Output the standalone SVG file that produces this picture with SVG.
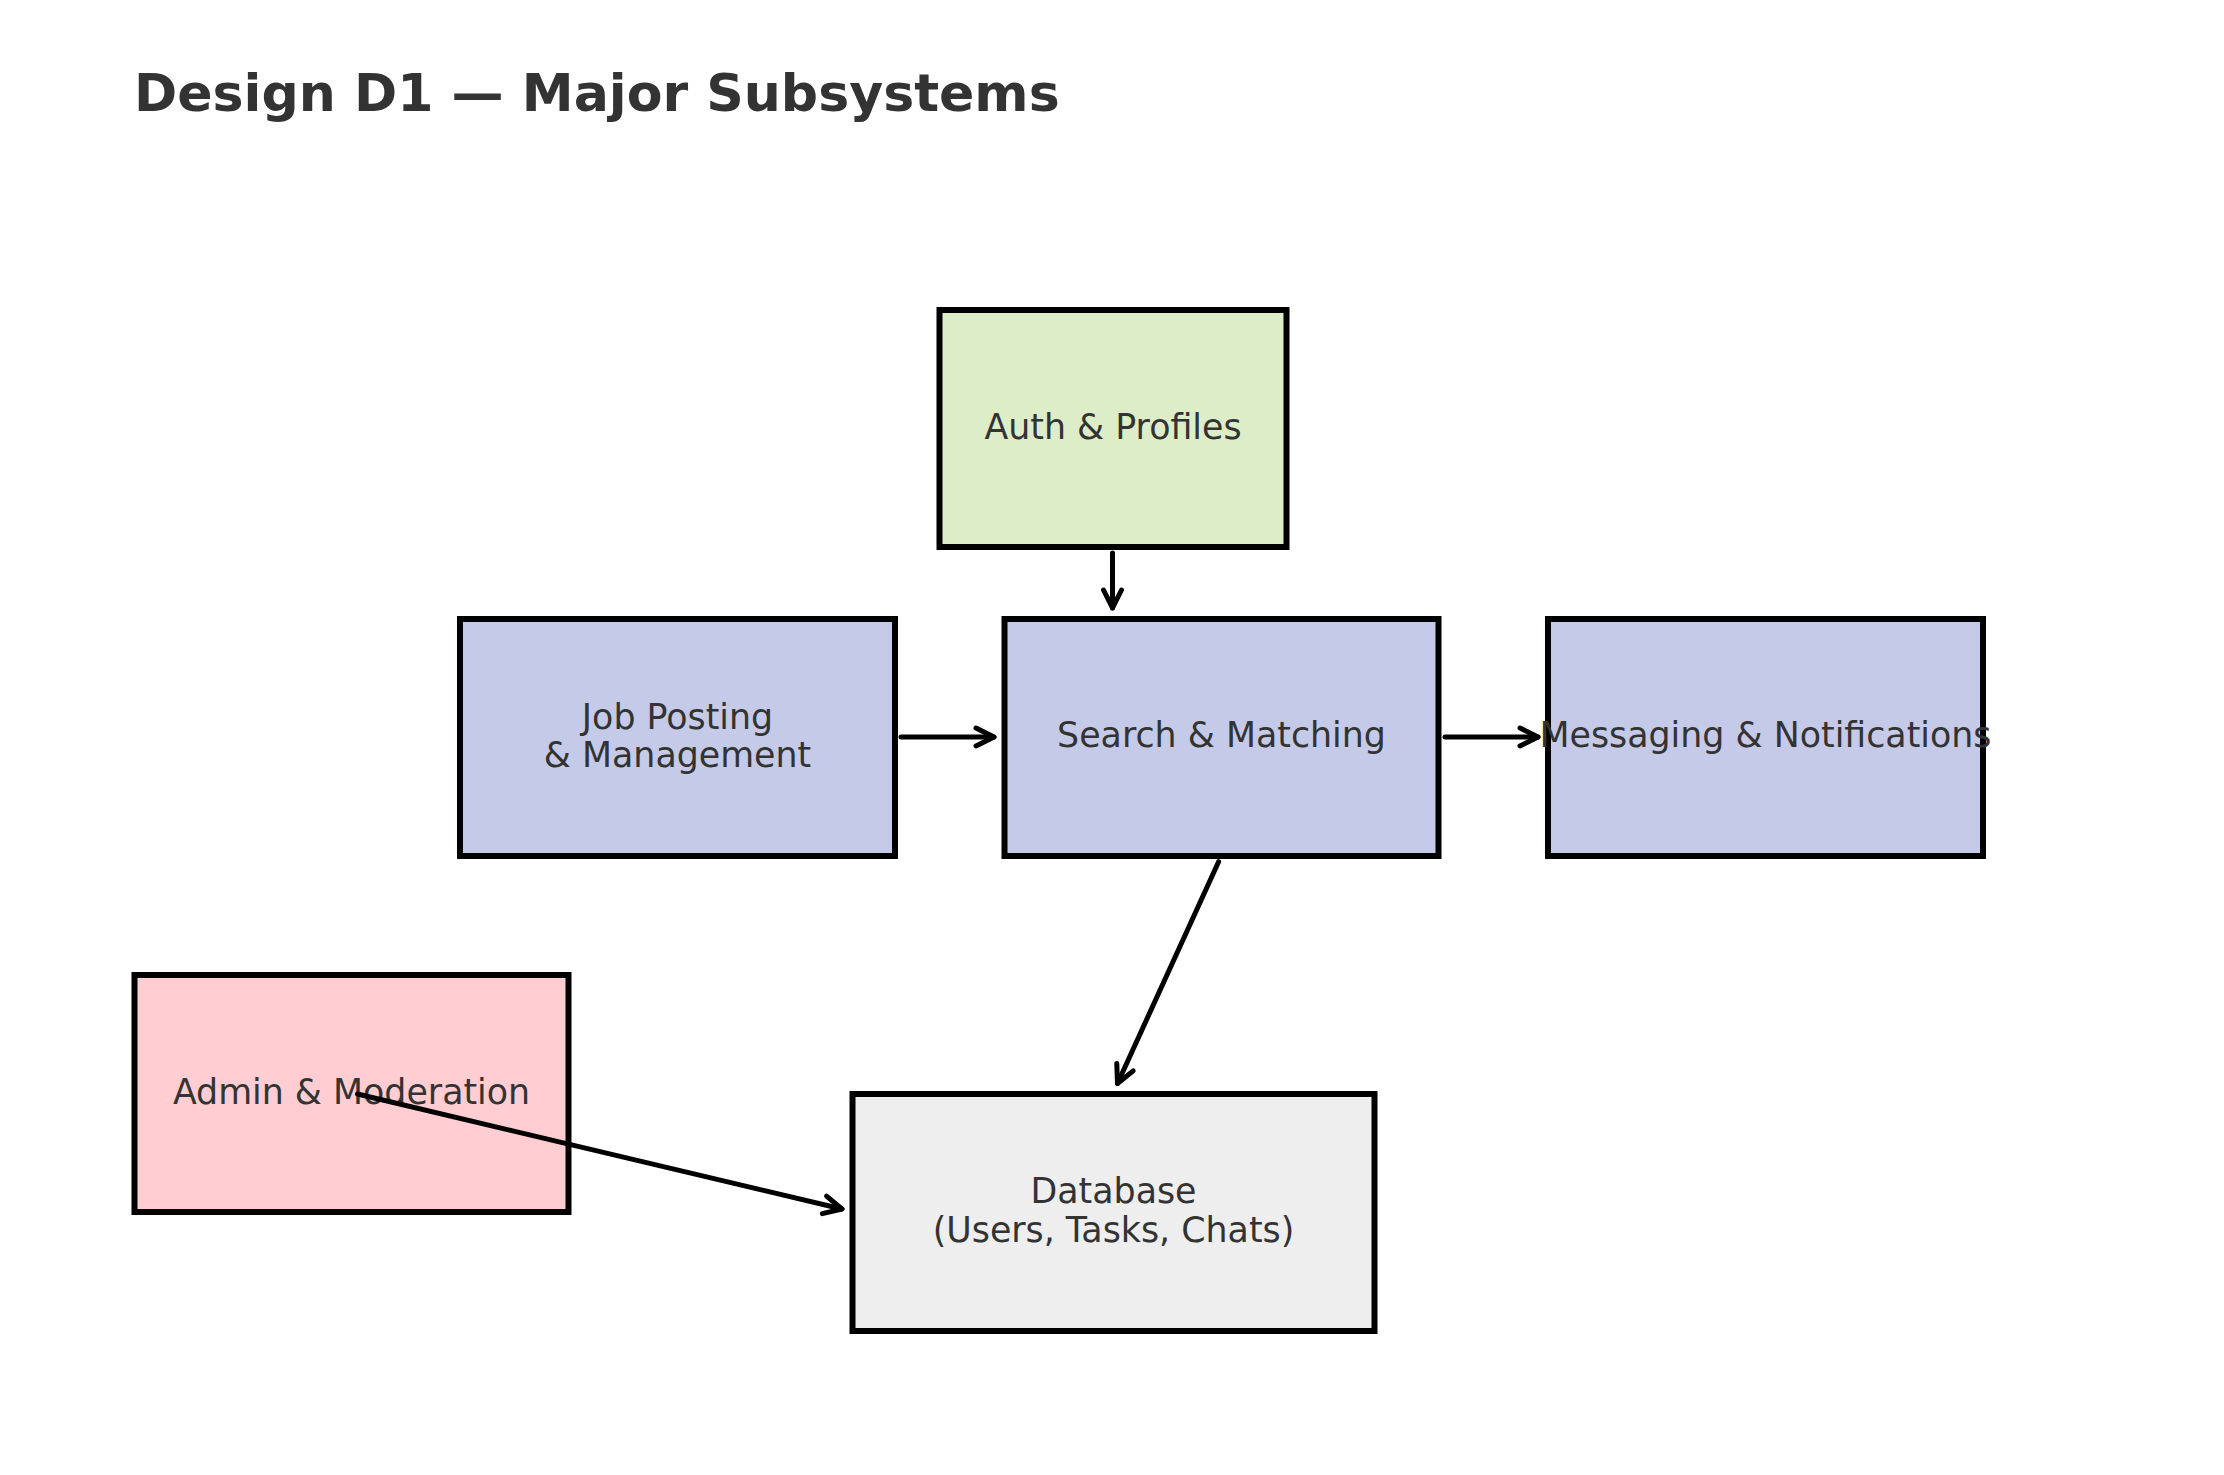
<svg xmlns="http://www.w3.org/2000/svg" width="2224" height="1475" viewBox="0 0 2224 1475">
<style>
  .box { stroke: #000000; stroke-width: 6; }
  .lbl { font-family: "DejaVu Sans", "Liberation Sans", sans-serif; font-size: 34.8px; fill: #333333; text-anchor: middle; }
  .title { font-family: "DejaVu Sans", "Liberation Sans", sans-serif; font-size: 52.1px; font-weight: bold; fill: #333333; }
  .conn { stroke: #000000; stroke-width: 5; fill: none; stroke-linecap: round; marker-end: url(#arrow); }
</style>
<defs>
  <marker id="arrow" markerUnits="userSpaceOnUse" orient="auto" markerWidth="30" markerHeight="30" refX="0" refY="0" overflow="visible">
    <path d="M -18 -9 L 0 0 L -18 9" fill="none" stroke="#000000" stroke-width="5" stroke-linecap="round" stroke-linejoin="round"/>
  </marker>
</defs>
<rect width="2224" height="1475" fill="#ffffff"/>
<text class="title" x="134" y="111">Design D1 — Major Subsystems</text>

<g id="auth">
  <rect class="box" x="939.5" y="310" width="347" height="237" fill="#dcedc8"/>
  <text class="lbl" x="1113" y="438.5">Auth &amp; Profiles</text>
</g>
<g id="jobposting">
  <rect class="box" x="460" y="619" width="435" height="237" fill="#c5cae9"/>
  <text class="lbl" x="677.5" y="728.5">Job Posting</text>
  <text class="lbl" x="677.5" y="767">&amp; Management</text>
</g>
<g id="search">
  <rect class="box" x="1004.5" y="619" width="434" height="237" fill="#c5cae9"/>
  <text class="lbl" x="1221.5" y="747">Search &amp; Matching</text>
</g>
<g id="messaging">
  <rect class="box" x="1548" y="619" width="435" height="237" fill="#c5cae9"/>
  <text class="lbl" x="1765.5" y="747">Messaging &amp; Notifications</text>
</g>
<g id="admin">
  <rect class="box" x="134.5" y="975" width="434" height="237" fill="#ffcdd2"/>
  <text class="lbl" x="351.5" y="1103.5">Admin &amp; Moderation</text>
</g>
<g id="database">
  <rect class="box" x="852.5" y="1094" width="522" height="237" fill="#eeeeee"/>
  <text class="lbl" x="1113.5" y="1202.5">Database</text>
  <text class="lbl" x="1113.5" y="1241.5">(Users, Tasks, Chats)</text>
</g>

<g id="connectors">
  <line class="conn" x1="1112.5" y1="553" x2="1112.5" y2="608"/>
  <line class="conn" x1="901" y1="737" x2="994" y2="737"/>
  <line class="conn" x1="1445" y1="737" x2="1538" y2="737"/>
  <line class="conn" x1="1218.6" y1="861.7" x2="1117.5" y2="1083.5"/>
  <line class="conn" x1="357.5" y1="1094" x2="842" y2="1209"/>
</g>
</svg>
